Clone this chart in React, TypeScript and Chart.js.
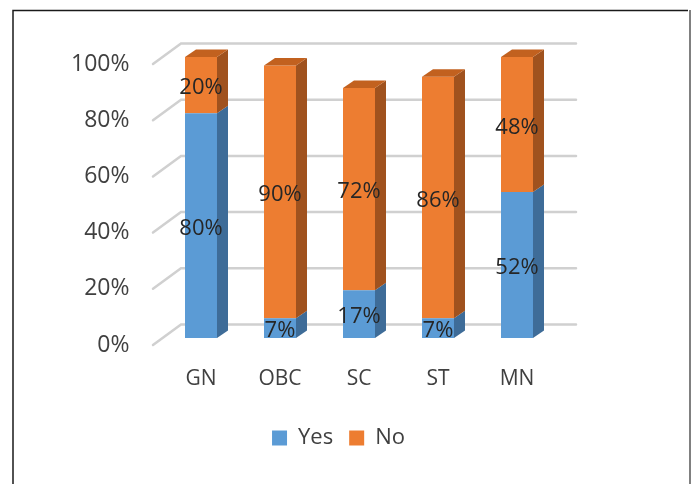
import React, { useEffect, useRef } from "react";
import { Chart, registerables } from "chart.js";

Chart.register(...registerables);

const categories = ["GN", "OBC", "SC", "ST", "MN"];
const seriesNames = ["Yes", "No"];
const yesValues = [80, 7, 17, 7, 52];
const noValues = [20, 90, 72, 86, 48];
const yTickStep = 20;
const yMax = 100;

const FONT = "'Open Sans', sans-serif";
const frontColors = ["#5B9BD5", "#ED7D31"];
const sideColors = ["#3E6C98", "#A0521E"];
const topColors = ["#4D86BC", "#C2611F"];

const DX = 11;
const DY = 7.5;

const threeD = {
  id: "threeD",
  beforeDraw(chart: any) {
    const ctx = chart.ctx;
    ctx.save();
    ctx.fillStyle = "#ffffff";
    ctx.fillRect(0, 0, chart.width, chart.height);
    ctx.strokeStyle = "#1a1a1a";
    ctx.lineWidth = 1.5;
    ctx.beginPath();
    ctx.moveTo(13, chart.height);
    ctx.lineTo(13, 10.5);
    ctx.lineTo(688, 10.5);
    ctx.stroke();
    ctx.strokeStyle = "#808080";
    ctx.lineWidth = 2;
    ctx.beginPath();
    ctx.moveTo(690, 10);
    ctx.lineTo(690, chart.height);
    ctx.stroke();
    ctx.restore();
  },
  beforeDatasetsDraw(chart: any) {
    const ctx = chart.ctx;
    const area = chart.chartArea;
    const ys = chart.scales.y;
    ctx.save();
    ctx.strokeStyle = "#D0D0D0";
    ctx.lineWidth = 2.5;
    ctx.lineCap = "round";
    ys.ticks.forEach((t: any) => {
      const y = ys.getPixelForValue(t.value);
      ctx.beginPath();
      ctx.moveTo(area.left - 8.5, y + 7);
      ctx.lineTo(area.left + 19.5, y - 13.5);
      ctx.lineTo(area.right + 19.5, y - 13.5);
      ctx.stroke();
    });
    ctx.restore();
  },
  afterDatasetsDraw(chart: any) {
    const ctx = chart.ctx;
    const n = chart.data.datasets.length;
    ctx.save();
    for (let d = 0; d < n; d++) {
      const meta = chart.getDatasetMeta(d);
      meta.data.forEach((el: any) => {
        const right = el.x + el.width / 2;
        ctx.fillStyle = sideColors[d];
        ctx.beginPath();
        ctx.moveTo(right, el.y);
        ctx.lineTo(right + DX, el.y - DY);
        ctx.lineTo(right + DX, el.base - DY);
        ctx.lineTo(right, el.base);
        ctx.closePath();
        ctx.fill();
      });
    }
    const topMeta = chart.getDatasetMeta(n - 1);
    topMeta.data.forEach((el: any) => {
      const left = el.x - el.width / 2;
      const right = el.x + el.width / 2;
      ctx.fillStyle = topColors[n - 1];
      ctx.beginPath();
      ctx.moveTo(left, el.y);
      ctx.lineTo(left + DX, el.y - DY);
      ctx.lineTo(right + DX, el.y - DY);
      ctx.lineTo(right, el.y);
      ctx.closePath();
      ctx.fill();
    });
    ctx.font = `22px ${FONT}`;
    ctx.fillStyle = "#262626";
    ctx.textAlign = "center";
    ctx.textBaseline = "middle";
    for (let d = 0; d < n; d++) {
      const meta = chart.getDatasetMeta(d);
      const vals = chart.data.datasets[d].data;
      meta.data.forEach((el: any, i: number) => {
        ctx.fillText(`${vals[i]}%`, el.x, (el.y + el.base) / 2 + 3);
      });
    }
    ctx.restore();
  },
};

export default function App() {
  const ref = useRef<HTMLCanvasElement>(null);
  useEffect(() => {
    if (!ref.current) return;
    const chart = new Chart(ref.current, {
      type: "bar",
      data: {
        labels: categories,
        datasets: [
          {
            label: seriesNames[0],
            data: yesValues,
            backgroundColor: frontColors[0],
            borderWidth: 0,
            barPercentage: 0.405,
            categoryPercentage: 1,
          },
          {
            label: seriesNames[1],
            data: noValues,
            backgroundColor: frontColors[1],
            borderWidth: 0,
            barPercentage: 0.405,
            categoryPercentage: 1,
          },
        ],
      },
      options: {
        animation: false,
        responsive: false,
        events: [],
        layout: { padding: { left: 0, top: 57, right: 18, bottom: 25 } },
        plugins: {
          tooltip: { enabled: false },
          legend: {
            position: "bottom",
            labels: {
              boxWidth: 15,
              boxHeight: 15,
              padding: 16,
              color: "#404040",
              font: { family: FONT, size: 22 },
            },
          },
        },
        scales: {
          x: {
            stacked: true,
            grid: { display: false },
            border: { display: false },
            ticks: {
              color: "#404040",
              padding: 20,
              font: { family: FONT, size: 21 },
            },
            afterFit: (s: any) => {
              s.height = 73;
            },
          },
          y: {
            stacked: true,
            min: 0,
            max: yMax,
            grid: { display: false },
            border: { display: false },
            ticks: {
              stepSize: yTickStep,
              color: "#404040",
              padding: 24,
              labelOffset: 7,
              font: { family: FONT, size: 23 },
              callback: (v: any) => `${v}%`,
            },
            afterFit: (s: any) => {
              s.width = 161.5;
            },
          },
          yRight: {
            position: "right",
            display: true,
            grid: { display: false },
            border: { display: false },
            ticks: { display: false },
            afterFit: (s: any) => {
              s.width = 120.5;
            },
          },
        },
      },
      plugins: [threeD],
    });
    return () => chart.destroy();
  }, []);
  return (
    <div style={{ position: "fixed", left: 0, top: 0, width: 695, height: 484, background: "#fff" }}>
      <canvas ref={ref} width={695} height={484} style={{ display: "block" }} />
    </div>
  );
}
